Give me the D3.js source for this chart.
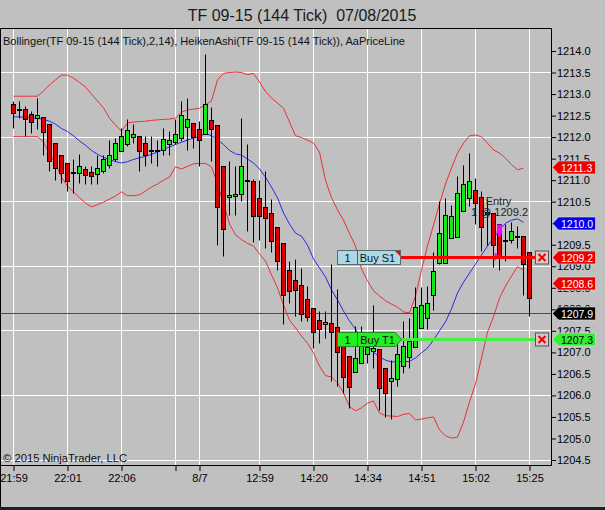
<!DOCTYPE html>
<html><head><meta charset="utf-8">
<script src="https://cdn.jsdelivr.net/npm/d3@7/dist/d3.min.js"></script>
<style>
html,body{margin:0;padding:0;background:#c0c0c0;}
svg{display:block;font-family:Arial,"Liberation Sans",sans-serif;}
text{white-space:pre;}
</style></head>
<body><svg id="c" width="605" height="510"></svg>
<script>
// ---------------- DATA ----------------
const title = "TF 09-15 (144 Tick)  07/08/2015";
const legendText = "Bollinger(TF 09-15 (144 Tick),2,14), HeikenAshi(TF 09-15 (144 Tick)), AaPriceLine";
const copyright = "\u00A9 2015 NinjaTrader, LLC";

const timeTickIndex = [0, 9, 18, 27, 31, 41, 50, 59, 68, 77, 86];
const timeTickLabels = ["21:59", "22:01", "22:06", "", "8/7", "12:59", "14:20", "14:34", "14:51", "15:02", "15:25"];

const priceTicks = [1204.5,1205.0,1205.5,1206.0,1206.5,1207.0,1207.5,1208.0,1208.5,1209.0,1209.5,1210.0,1210.5,1211.0,1211.5,1212.0,1212.5,1213.0,1213.5,1214.0];
const gridPrices = [1204.5,1206.0,1207.5,1209.0,1210.5,1212.0,1213.5];

// Heiken-Ashi candles
const haOpen = [
1212.75,1212.63,1212.65,1212.53,1212.43,1212.46,1212.30,1211.86,1211.58,1211.39,
1211.17,1211.16,1211.24,1211.18,1211.14,1211.21,1211.33,1211.47,1211.66,1211.82,
1211.99,1212.01,1211.86,1211.70,1211.70,1211.70,1211.83,1211.88,1211.97,1212.22,
1212.32,1212.17,1212.05,1212.39,1212.28,1211.31,1210.59,1210.62,1210.66,1210.99,
1210.98,1210.58,1210.37,1210.23,1209.90,1209.52,1208.91,1208.66,1208.55,1208.23,
1208.02,1207.75,1207.65,1207.68,1207.58,1207.17,1206.90,1206.53,1206.73,1206.94,
1207.03,1207.07,1206.63,1206.32,1206.38,1206.67,1206.89,1207.11,1207.56,1207.78,
1208.33,1209.07,1209.07,1209.65,1209.67,1210.27,1210.58,1210.77,1210.60,1210.25,
1210.23,1209.96,1209.60,1209.61,1209.69,1209.69,1209.33];
const haClose = [
1212.55,1212.63,1212.41,1212.34,1212.50,1212.11,1211.43,1211.28,1211.16,1210.96,
1211.17,1211.31,1211.10,1211.08,1211.26,1211.47,1211.58,1211.86,1212.01,1212.15,
1212.07,1211.66,1211.58,1211.70,1211.70,1211.95,1211.91,1212.07,1212.51,1212.41,
1212.00,1211.93,1212.76,1212.17,1210.36,1209.86,1210.64,1210.67,1211.31,1210.99,
1210.15,1210.15,1210.11,1209.57,1209.11,1208.31,1208.41,1208.43,1207.88,1207.81,
1207.47,1207.54,1207.70,1207.47,1206.99,1206.42,1206.19,1206.86,1207.26,1207.11,
1207.10,1206.17,1206.05,1206.40,1206.95,1207.14,1207.26,1208.04,1208.10,1208.14,
1208.87,1209.77,1210.19,1210.15,1210.68,1210.89,1210.96,1210.46,1209.91,1210.21,
1209.49,1209.20,1209.60,1209.80,1209.69,1209.03,1208.24];
const haHigh = [
1212.82,1212.82,1212.71,1212.59,1212.90,1212.46,1212.30,1211.86,1211.58,1211.39,
1211.47,1211.60,1211.31,1211.31,1211.58,1211.58,1211.93,1211.97,1212.20,1212.41,
1212.30,1212.01,1212.01,1212.01,1211.93,1212.20,1212.13,1212.41,1212.82,1212.90,
1212.32,1212.36,1213.91,1212.68,1212.28,1211.31,1211.43,1211.31,1212.44,1211.82,
1211.02,1211.00,1211.21,1210.54,1209.90,1209.52,1209.11,1209.15,1208.95,1208.53,
1208.02,1207.94,1207.94,1209.03,1208.45,1207.17,1206.90,1207.60,1207.59,1207.21,
1208.10,1207.07,1206.63,1206.82,1207.36,1207.71,1207.78,1208.51,1208.50,1208.52,
1209.33,1210.50,1210.58,1210.42,1211.08,1211.33,1211.62,1211.04,1210.73,1210.54,
1210.23,1209.96,1209.98,1210.02,1209.92,1209.69,1209.33];
const haLow = [
1212.20,1212.44,1212.01,1212.09,1212.17,1211.58,1211.20,1211.00,1210.93,1210.73,
1210.70,1210.93,1210.89,1210.89,1210.89,1211.16,1211.28,1211.43,1211.66,1211.79,
1211.86,1211.20,1211.31,1211.39,1211.31,1211.58,1211.58,1211.82,1211.89,1211.70,
1211.74,1211.31,1212.05,1211.43,1209.49,1209.22,1210.19,1210.19,1210.50,1209.80,
1209.55,1209.61,1209.42,1209.33,1208.91,1207.64,1208.14,1207.83,1207.71,1207.71,
1207.09,1207.21,1207.33,1206.32,1206.20,1206.05,1205.70,1206.53,1206.73,1206.73,
1206.63,1205.66,1205.49,1205.45,1206.20,1206.52,1206.63,1207.11,1207.56,1207.52,
1207.98,1209.03,1209.07,1209.65,1209.67,1210.27,1210.38,1209.96,1209.34,1209.49,
1208.96,1208.91,1209.10,1209.53,1209.42,1208.33,1207.83];

// Bollinger(2,14)
const bbUpper = [
1212.95,1212.95,1212.95,1212.95,1212.95,1213.07,1213.21,1213.33,1213.44,1213.44,
1213.37,1213.27,1213.16,1213.00,1212.84,1212.68,1212.44,1212.28,1212.14,1212.33,
1212.35,1212.36,1212.37,1212.39,1212.40,1212.41,1212.42,1212.44,1212.58,1212.63,
1212.65,1212.67,1212.75,1212.84,1213.33,1213.48,1213.50,1213.51,1213.50,1213.45,
1213.48,1213.28,1213.06,1212.91,1212.79,1212.67,1212.35,1212.03,1211.99,1211.93,
1211.86,1211.65,1211.00,1210.59,1210.31,1210.07,1209.76,1209.47,1208.94,1208.66,
1208.43,1208.31,1208.20,1208.12,1208.05,1207.94,1207.92,1208.31,1208.91,1209.47,
1209.96,1210.45,1210.91,1211.28,1211.63,1211.86,1212.03,1212.05,1212.01,1211.86,
1211.70,1211.63,1211.51,1211.36,1211.24,1211.28];
const bbMiddle = [
1212.47,1212.47,1212.46,1212.44,1212.44,1212.41,1212.37,1212.30,1212.20,1212.13,
1212.03,1211.91,1211.81,1211.69,1211.60,1211.53,1211.48,1211.43,1211.40,1211.43,
1211.48,1211.52,1211.55,1211.60,1211.65,1211.72,1211.77,1211.83,1211.88,1211.93,
1211.98,1212.01,1212.09,1212.03,1211.94,1211.83,1211.69,1211.61,1211.58,1211.49,
1211.40,1211.26,1211.07,1210.84,1210.59,1210.24,1209.98,1209.77,1209.70,1209.49,
1209.17,1208.96,1208.75,1208.45,1208.22,1207.96,1207.73,1207.54,1207.31,1207.15,
1207.01,1206.89,1206.82,1206.78,1206.78,1206.78,1206.79,1206.87,1206.99,1207.10,
1207.29,1207.50,1207.71,1208.01,1208.38,1208.63,1208.84,1209.05,1209.26,1209.47,
1209.66,1209.84,1210.00,1210.07,1210.10,1210.02];
const bbLower = [
1212.01,1212.01,1212.01,1212.01,1212.01,1211.89,1211.61,1211.38,1211.07,1210.86,
1210.73,1210.59,1210.47,1210.38,1210.43,1210.49,1210.56,1210.63,1210.73,1210.64,
1210.64,1210.66,1210.75,1210.84,1210.91,1211.00,1211.07,1211.31,1211.26,1211.32,
1211.38,1211.39,1211.39,1211.31,1210.91,1210.47,1209.98,1209.73,1209.62,1209.53,
1209.47,1209.29,1209.12,1208.80,1208.50,1208.10,1207.75,1207.57,1207.38,1207.21,
1206.99,1206.68,1206.46,1206.43,1206.29,1206.06,1205.74,1205.64,1205.71,1205.82,
1205.87,1205.59,1205.53,1205.52,1205.51,1205.56,1205.58,1205.43,1205.45,1205.48,
1205.50,1205.20,1205.06,1205.01,1205.03,1205.38,1205.85,1206.27,1206.87,1207.47,
1207.83,1208.26,1208.54,1208.77,1208.99,1208.91];

const lastPrice = 1207.9;
const orders = [
  {qty: "1", name: "Buy S1", price: 1209.2, kind: "stop"},
  {qty: "1", name: "Buy T1", price: 1207.3, kind: "target"}
];
const entryBar = 81;
const entryText1 = "Entry";
const entryText2 = "1 @ 1209.2";
const axisMarkers = [
  {value: 1211.3, label: "1211.3", fill: "#ee0000", color: "#ffffff"},
  {value: 1210.0, label: "1210.0", fill: "#0000ee", color: "#ffffff"},
  {value: 1209.2, label: "1209.2", fill: "#ee0000", color: "#ffffff"},
  {value: 1208.6, label: "1208.6", fill: "#ee0000", color: "#ffffff"},
  {value: 1207.9, label: "1207.9", fill: "#000000", color: "#ffffff"},
  {value: 1207.3, label: "1207.3", fill: "#33ee33", color: "#000000"}
];

// ---------------- LAYOUT ----------------
const W = 605, H = 510;
const P = {left: 0, right: 551, top: 28, bottom: 465};
const svg = d3.select("#c");
const N = haOpen.length;

const x = d3.scaleLinear().domain([0, N - 1]).range([13.5, 529.5]);
const y = d3.scaleLinear().domain([1204.5, 1214]).range([460, 51]);
const py = v => Math.floor(y(v)) + 0.5;

svg.append("rect").attr("width", W).attr("height", H).attr("fill", "#c0c0c0");

// title
svg.append("text").attr("x", 302).attr("y", 21).attr("text-anchor", "middle")
  .attr("font-size", 16).attr("fill", "#1a1a1a").text(title);

const clip = svg.append("clipPath").attr("id", "plotclip").append("rect")
  .attr("x", P.left).attr("y", P.top).attr("width", P.right - P.left).attr("height", P.bottom - P.top);
const plot = svg.append("g").attr("clip-path", "url(#plotclip)");

// grid
plot.selectAll("line.hg").data(gridPrices).enter().append("line")
  .attr("x1", P.left).attr("x2", P.right).attr("y1", d => py(d)).attr("y2", d => py(d))
  .attr("stroke", "#ffffff").attr("stroke-width", 1);
plot.selectAll("line.vg").data(timeTickIndex).enter().append("line")
  .attr("x1", d => x(d)).attr("x2", d => x(d)).attr("y1", P.top).attr("y2", P.bottom)
  .attr("stroke", "#ffffff").attr("stroke-width", 1);

// legend + copyright
plot.append("text").attr("x", 3).attr("y", 45).attr("font-size", 11).attr("fill", "#111")
  .attr("textLength", 402).attr("lengthAdjust", "spacingAndGlyphs").text(legendText);
plot.append("text").attr("x", 3).attr("y", 462).attr("font-size", 11).attr("fill", "#111")
  .attr("textLength", 124).attr("lengthAdjust", "spacingAndGlyphs").text(copyright);

// price line (AaPriceLine)
plot.append("line").attr("x1", P.left).attr("x2", P.right)
  .attr("y1", py(lastPrice)).attr("y2", py(lastPrice)).attr("stroke", "#ff0000").attr("stroke-width", 1);

// Bollinger bands
const bandLine = d3.line().x((d, i) => x(i)).y(d => y(d));
plot.append("path").datum(bbUpper).attr("d", bandLine).attr("fill", "none").attr("stroke", "#e8303a").attr("stroke-width", 1);
plot.append("path").datum(bbLower).attr("d", bandLine).attr("fill", "none").attr("stroke", "#e8303a").attr("stroke-width", 1);
plot.append("path").datum(bbMiddle).attr("d", bandLine).attr("fill", "none").attr("stroke", "#2a2ae0").attr("stroke-width", 1);

// candles
const idx = d3.range(N);
const cg = plot.append("g");
cg.selectAll("line.wick").data(idx).enter().append("line")
  .attr("x1", i => x(i)).attr("x2", i => x(i))
  .attr("y1", i => py(haHigh[i])).attr("y2", i => py(haLow[i]))
  .attr("stroke", "#000").attr("stroke-width", 1);
cg.selectAll("rect.body").data(idx).enter().append("rect")
  .attr("x", i => x(i) - 2).attr("width", 4)
  .attr("y", i => py(Math.max(haOpen[i], haClose[i])))
  .attr("height", i => Math.max(1, py(Math.min(haOpen[i], haClose[i])) - py(Math.max(haOpen[i], haClose[i]))))
  .attr("fill", i => haClose[i] > haOpen[i] ? "#14ea14" : (haClose[i] < haOpen[i] ? "#dd0000" : "#000"))
  .attr("stroke", "#000").attr("stroke-width", 1);

// entry marker
const ex = x(entryBar);
plot.append("path")
  .attr("d", `M${ex-2.5},${py(1209.96)} H${ex+2.5} V${py(1209.80)} H${ex+3.5} L${ex},${py(1209.66)} L${ex-3.5},${py(1209.80)} H${ex-2.5} Z`)
  .attr("fill", "#ff00ff");
plot.append("path")
  .attr("d", `M${ex-5},${py(1209.32)} L${ex-1},${py(1209.24)} L${ex-5},${py(1209.12)} Z`)
  .attr("fill", "#ff00ff");
plot.append("text").attr("x", ex - 1).attr("y", 205).attr("text-anchor", "middle")
  .attr("font-size", 11).attr("fill", "#222").text(entryText1);
plot.append("text").attr("x", ex).attr("y", 216).attr("text-anchor", "middle")
  .attr("font-size", 11).attr("fill", "#222").text(entryText2);

// orders
const og = svg.append("g");
orders.forEach(o => {
  const yc = py(o.price);
  const lineColor = o.kind === "stop" ? "#ff0000" : "#44ee44";
  og.append("line").attr("x1", 400).attr("x2", 536).attr("y1", yc).attr("y2", yc)
    .attr("stroke", lineColor).attr("stroke-width", 3);
  if (o.kind === "stop") {
    og.append("rect").attr("x", 337.5).attr("y", yc - 7).attr("width", 63).attr("height", 14)
      .attr("fill", "#add8e6").attr("stroke", "#5a6a70");
    og.append("path").attr("d", `M${395},${yc-6.5} H${400} V${yc-1.5} Z`).attr("fill", "#ff0000");
  } else {
    og.append("path").attr("d", `M337.5,${yc-7} H395.5 L401.5,${yc} L395.5,${yc+7} H337.5 Z`)
      .attr("fill", "#22ee22").attr("stroke", "#2a8a2a");
  }
  og.append("line").attr("x1", 357.5).attr("x2", 357.5).attr("y1", yc - 7).attr("y2", yc + 7)
    .attr("stroke", "#557").attr("stroke-width", 1);
  og.append("text").attr("x", 347.5).attr("y", yc + 4).attr("text-anchor", "middle")
    .attr("font-size", 11).attr("fill", "#111").text(o.qty);
  og.append("text").attr("x", 377.5).attr("y", yc + 4).attr("text-anchor", "middle")
    .attr("font-size", 11).attr("fill", "#111").text(o.name);
  // cancel box
  og.append("rect").attr("x", 535.5).attr("y", yc - 6.5).attr("width", 13).attr("height", 13)
    .attr("fill", "#d8c8c8").attr("stroke", "#555");
  og.append("path").attr("d", `M${538.5},${yc-3.5} L${545.5},${yc+3.5} M${545.5},${yc-3.5} L${538.5},${yc+3.5}`)
    .attr("stroke", "#ee0000").attr("stroke-width", 2);
});

// frame lines
svg.append("line").attr("x1", 0).attr("x2", P.right + 0.5).attr("y1", P.top + 0.5).attr("y2", P.top + 0.5).attr("stroke", "#000");
svg.append("line").attr("x1", 0.5).attr("x2", 0.5).attr("y1", P.top).attr("y2", H).attr("stroke", "#000");
svg.append("rect").attr("x", 0).attr("y", 507).attr("width", W).attr("height", 3).attr("fill", "#202020");

// right price axis
const yAxis = d3.axisRight(y).tickValues(priceTicks).tickSize(5).tickSizeOuter(0).tickFormat(d3.format(".1f"));
const ya = svg.append("g").attr("transform", `translate(${P.right},0)`).call(yAxis);
ya.select(".domain").attr("d", `M0.5,${P.top}V${P.bottom}`).attr("stroke", "#000");
ya.selectAll(".tick line").attr("stroke", "#000");
ya.selectAll(".tick text").attr("x", 6).attr("font-size", 11).attr("font-family", "Arial, 'Liberation Sans', sans-serif").attr("fill", "#000");

// bottom time axis
const xAxis = d3.axisBottom(x).tickValues(timeTickIndex).tickSize(6).tickSizeOuter(0)
  .tickFormat((d, i) => timeTickLabels[i]);
const xa = svg.append("g").attr("transform", `translate(0,${P.bottom})`).call(xAxis);
xa.select(".domain").attr("d", `M0,0.5H${P.right + 1}`).attr("stroke", "#000");
xa.selectAll(".tick line").attr("stroke", "#000");
xa.selectAll(".tick text").attr("y", 9).attr("font-size", 11).attr("font-family", "Arial, 'Liberation Sans', sans-serif").attr("fill", "#000");

// right axis value markers
const mg = svg.append("g");
axisMarkers.forEach(m => {
  const yc = py(m.value);
  mg.append("path").attr("d", `M552.5,${yc} L558.5,${yc-6.5} H595.5 V${yc+6.5} H558.5 Z`)
    .attr("fill", m.fill).attr("stroke", "#e0e0e0").attr("stroke-width", 0.6);
  mg.append("text").attr("x", 561).attr("y", yc + 4).attr("font-size", 10.5).attr("fill", m.color).text(m.label);
});
</script></body></html>
